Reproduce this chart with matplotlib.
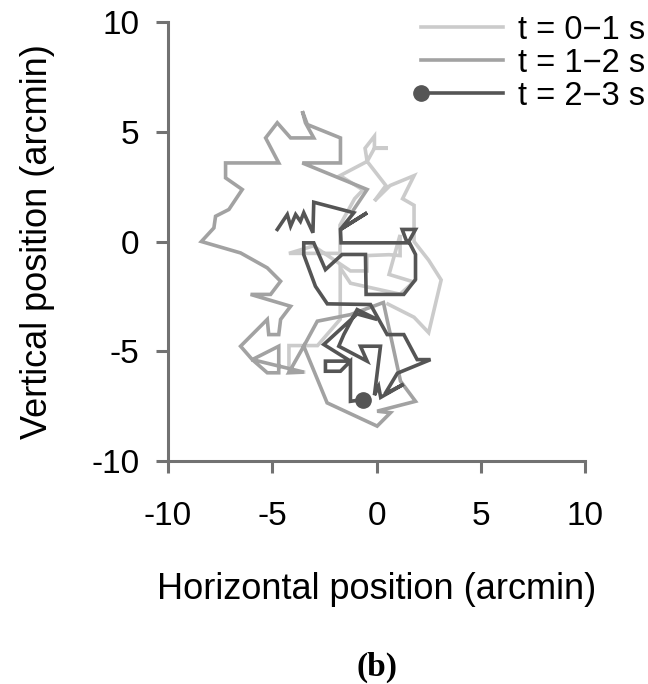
import matplotlib
matplotlib.use("Agg")
import matplotlib.pyplot as plt
from matplotlib.lines import Line2D
from matplotlib.legend_handler import HandlerBase

plt.rcParams['font.family'] = ['Liberation Sans', 'DejaVu Sans']
plt.rcParams['axes.unicode_minus'] = False

# Eye position traces (arcmin)
seg1_x = [0.55, 1.80, 2.50, 3.10, 2.50, 1.80, 1.80, 1.25, 1.80, 0.65, -0.10, 0.45, -0.45, -0.10, 0.55,
          -0.10, -0.10, -0.55, -0.45, -1.75, -0.65, -1.05, -1.75, -1.75, -3.03, -4.20, -3.03, -1.25,
          -0.46, -0.46, 0.60, 1.13, 1.13, 0.60, 1.78, 1.13, -1.25, -1.74, -1.74, -2.83, -4.20, -4.20, -3.50]
seg1_y = [-2.85, -3.45, -4.15, -1.75, -0.85, 0.00, 1.65, 1.95, 3.00, 2.55, 1.85, 2.55, 3.65, 4.25, 4.25,
          4.25, 4.80, 4.25, 3.65, 3.00, 2.35, 1.95, 0.75, -0.54, -0.54, -0.54, -0.20, -1.34,
          -1.34, -0.64, -0.60, -0.64, 0.30, -1.50, -1.84, -2.40, -1.90, -1.20, -3.54, -4.74, -4.74, -5.95, -5.95]

seg2_x = [-1.09, -0.45, -3.56, -1.73, -1.73, -3.32, -3.56, -3.41, -3.01, -4.12, -4.76, -5.32, -4.69,
          -7.24, -7.24, -6.44, -7.08, -7.72, -7.80, -8.40, -6.52, -5.24, -4.60, -5.08, -6.04, -4.12,
          -4.60, -4.69, -5.17, -5.24, -6.52, -5.96, -4.69, -4.69, -5.24, -5.96, -3.49, -4.21, -3.49,
          -2.37, 0.03, 0.67, 0.03, 1.87, 1.15, 0.33, -1.25, -2.84, -3.49]
seg2_y = [1.46, 2.37, 3.58, 3.58, 4.72, 5.33, 5.94, 5.41, 4.72, 4.72, 5.41, 4.72, 3.58,
          3.58, 2.90, 2.37, 1.46, 1.15, 0.62, 0.00, -0.52, -1.20, -1.81, -2.41, -2.41, -2.95,
          -3.55, -4.24, -4.24, -3.55, -4.77, -5.38, -4.77, -5.98, -5.98, -5.38, -5.95, -5.98, -4.77,
          -7.35, -8.41, -7.80, -7.73, -7.28, -6.36, -2.78, -3.33, -3.63, -4.77]

seg3_x = [-4.76, -4.28, -4.12, -3.88, -3.65, -3.49, -3.05, -3.01, -1.09, -1.73, -0.45, -1.73, -1.70,
          1.47, 1.23, 1.87, 1.55, 1.87, 1.87, 1.31, -0.50, -0.53, -1.65, -2.45, -3.01, -3.49, -3.49,
          -2.93, -2.36, -0.29, 0.51, 1.31, 1.95, 2.59, 1.00, 0.40, 1.30, 0.20, 0.10, -0.10, 0.19,
          -0.77, -0.45, -1.81, -1.57, -0.93, 0.03, -0.93, -2.53, -1.25, -2.45, -2.45, -1.73, -1.25,
          -1.25, -0.65]
seg3_y = [0.55, 1.23, 0.70, 1.23, 0.92, 1.31, 0.40, 1.79, 1.31, 0.55, 1.31, 0.55, -0.06,
          -0.06, 0.55, 0.55, 0.00, -0.59, -1.73, -2.41, -2.41, -0.59, -0.59, -1.28, -0.06, -0.06, -0.60,
          -2.04, -2.84, -2.87, -4.24, -4.24, -5.38, -5.38, -6.00, -6.95, -6.50, -7.10, -6.60, -7.00, -4.77,
          -4.77, -5.45, -4.77, -4.24, -3.10, -3.55, -3.30, -4.69, -5.45, -5.45, -5.91, -5.91, -5.45,
          -7.28, -7.20]

labels = ['t = 0\u22121 s', 't = 1\u22122 s', 't = 2\u22123 s']
colors = ['#cbcbcb', '#a2a2a2', '#555555']
ticks = [-10, -5, 0, 5, 10]


class StartDotHandler(HandlerBase):
    """Legend line with a single dot at its left end."""
    def create_artists(self, legend, orig_handle, xdescent, ydescent,
                       width, height, fontsize, trans):
        y = (height - ydescent) / 2.0
        x0, x1 = -xdescent, width - xdescent
        line = Line2D([x0, x1], [y, y], color=orig_handle.get_color(),
                      lw=orig_handle.get_linewidth())
        dot = Line2D([x0], [y], marker='o', ls='None',
                     ms=orig_handle.get_markersize(), color=orig_handle.get_color())
        line.set_transform(trans)
        dot.set_transform(trans)
        return [line, dot]


fig = plt.figure(figsize=(6.48, 6.84), dpi=100)
ax = fig.add_axes([0.2593, 0.326, 0.6435, 0.6418])

lw = 2.6
ax.plot(seg1_x, seg1_y, color=colors[0], lw=lw, solid_joinstyle='miter', zorder=2)
ax.plot(seg2_x, seg2_y, color=colors[1], lw=lw, solid_joinstyle='miter', zorder=3)
ax.plot(seg3_x, seg3_y, color=colors[2], lw=lw, solid_joinstyle='miter', zorder=4)
ax.plot(seg3_x[-1:], seg3_y[-1:], 'o', color=colors[2], ms=11, zorder=5)

ax.set_xlim(-10, 10)
ax.set_ylim(-10, 10)
ax.set_xticks(ticks)
ax.set_yticks(ticks)
for s in ['top', 'right']:
    ax.spines[s].set_visible(False)
for s in ['left', 'bottom']:
    ax.spines[s].set_color('#727272')
    ax.spines[s].set_linewidth(2.2)
ax.tick_params(direction='out', length=8.6, width=2.2, color='#727272',
               labelsize=24, labelcolor='black')
ax.tick_params(axis='x', pad=20)
ax.tick_params(axis='y', pad=12)
ax.set_xlabel('Horizontal position (arcmin)', fontsize=26)
ax.set_ylabel('Vertical position (arcmin)', fontsize=26)
ax.xaxis.set_label_coords(0.5, -0.252)
ax.yaxis.set_label_coords(-0.27, 0.5)

h3 = Line2D([], [], color=colors[2], lw=lw, marker='o', ms=11)
handles = [Line2D([], [], color=colors[0], lw=lw),
           Line2D([], [], color=colors[1], lw=lw),
           h3]
leg = ax.legend(handles, labels, loc='upper left', bbox_to_anchor=(0.576, 1.046),
                frameon=False, fontsize=23.5, handlelength=2.5,
                handletextpad=0.45, labelspacing=0.06, borderaxespad=0,
                handler_map={h3: StartDotHandler()})

fig.text(0.582, 0.025, '(b)', fontsize=24, fontweight='bold', family='Liberation Serif',
         ha='center', va='center')

fig.savefig('out.png', dpi=100)
